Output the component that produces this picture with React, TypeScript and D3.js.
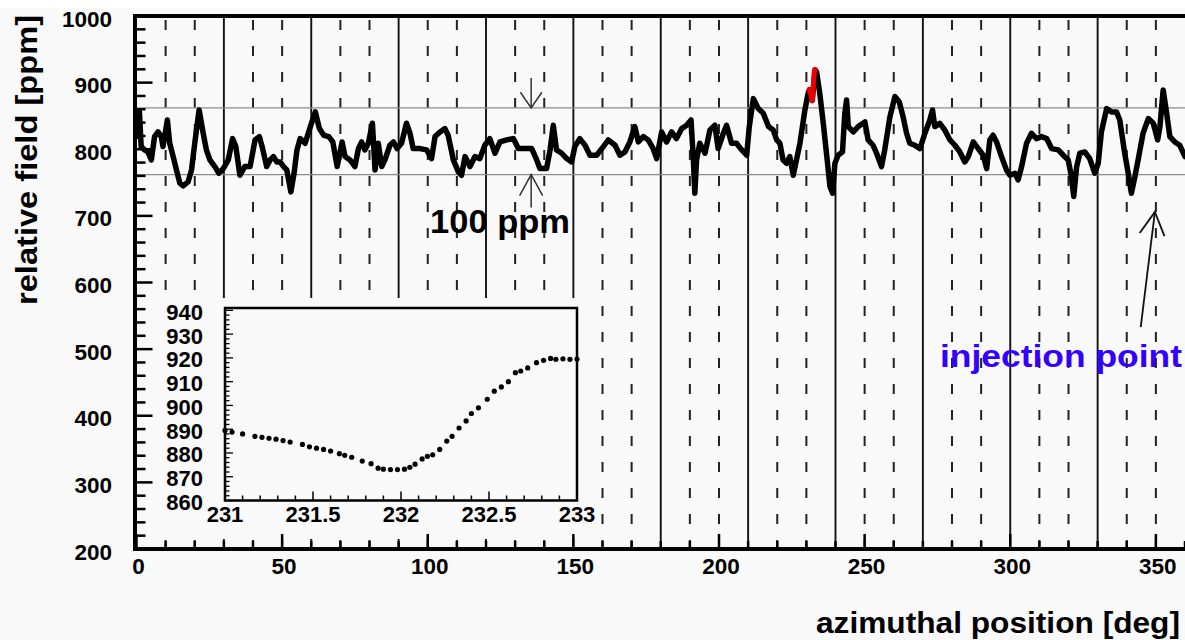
import React from "react";
import * as d3 from "d3";

// ---- data ----
const azimuth: number[] = [
  0, 1.0, 1.6, 2.8, 3.9, 5.1, 6.2, 7.4, 8.5, 9.1, 10.6, 11.4, 12.6, 13.7, 14.9, 16.0, 17.7, 18.9, 20.0, 21.5,
  22.9, 24.0, 25.2, 26.9, 28.3, 29.8, 31.5, 33.0, 34.1, 35.5, 37.2, 39.0, 40.7, 42.2, 43.3, 44.7, 45.9, 47.0,
  48.2, 49.3, 50.5, 51.6, 53.0, 54.1, 55.1, 56.2, 57.9, 59.7, 61.4, 62.8, 64.3, 66.0, 67.4, 68.9, 70.6,
  71.6, 73.3, 75.0, 76.2, 77.3, 78.4, 79.6, 81.0, 81.9, 83.0, 84.2, 85.3, 87.0, 88.2, 89.5, 91.0, 92.7,
  93.9, 95.0, 97.3, 99.6, 101.3, 102.5, 104.2, 105.9, 107.0, 108.8, 110.5, 111.6, 112.8, 114.5, 116.2,
  117.9, 119.6, 121.3, 123.1, 124.8, 127.1, 129.4, 131.1, 133.4, 135.7, 137.4, 138.5, 140.8, 142.0,
  143.1, 144.2, 146.0, 147.7, 149.4, 150.5, 152.2, 154.0, 155.7, 158.0, 160.3, 162.0, 164.3, 166.0,
  167.7, 169.4, 171.1, 172.3, 174.0, 175.7, 177.4, 178.6, 180.3, 182.0, 183.7, 185.4, 187.2, 188.9,
  190.4, 191.2, 191.7, 192.3, 193.4, 195.2, 196.9, 198.6, 199.7, 201.5, 202.6, 204.3, 206.0, 207.8,
  209.5, 210.4, 211.8, 213.5, 215.2, 217.0, 218.6, 219.8, 220.9, 222.0, 223.2, 224.3, 225.5, 226.6,
  227.8, 229.5, 230.6, 231.0, 232.0, 233.0, 233.5, 234.6, 235.8, 236.9, 238.1, 239.0, 239.8, 240.9,
  242.4, 243.2, 243.8, 244.4, 246.1, 247.8, 250.1, 251.2, 252.9, 254.1, 255.8, 256.9, 258.7, 260.4,
  261.9, 263.2, 264.4, 265.5, 267.2, 269.0, 270.7, 272.4, 273.3, 274.1, 275.8, 277.5, 279.3, 281.0,
  282.7, 284.4, 285.6, 287.3, 289.0, 290.7, 291.9, 293.0, 294.1, 295.3, 297.0, 298.7, 299.9, 301.6,
  302.7, 303.9, 305.6, 307.3, 309.0, 310.7, 312.5, 314.2, 316.5, 318.2, 319.9, 321.0, 321.8, 322.8,
  323.9, 325.6, 327.3, 329.0, 330.2, 331.3, 333.1, 334.8, 336.5, 337.6, 339.3, 340.5, 341.6, 342.8,
  343.9, 345.6, 347.4, 349.1, 350.6, 351.4, 352.5, 353.7, 354.8, 356.5, 358.2, 360.0,
];
const field: number[] = [
  819, 856, 804, 799, 796, 784, 819, 826, 819, 804, 844, 809, 789, 769, 749, 745, 751, 769, 809, 859,
  824, 799, 784, 774, 764, 771, 784, 816, 804, 761, 774, 774, 814, 819, 801, 774, 784, 789,
  781, 781, 774, 769, 736, 764, 799, 816, 809, 834, 856, 831, 821, 819, 811, 774, 811,
  789, 784, 774, 801, 811, 799, 809, 839, 769, 809, 774, 784, 806, 811, 801, 809, 839,
  824, 801, 801, 799, 786, 819, 826, 831, 821, 784, 766, 761, 789, 774, 789,
  786, 806, 816, 794, 811, 814, 816, 801, 801, 801, 784, 771, 771, 799,
  836, 799, 794, 786, 781, 804, 816, 806, 791, 791, 804, 814, 806, 791,
  796, 811, 834, 811, 819, 814, 801, 786, 826, 811, 826, 816, 831, 836,
  844, 784, 734, 784, 809, 794, 829, 836, 801, 824, 836, 809, 809, 799,
  791, 834, 876, 861, 854, 834, 829, 814, 809, 784, 779, 789, 761, 784,
  809, 859, 884, 889, 873, 919, 916, 884, 839, 794, 744, 734, 779, 791,
  796, 854, 874, 834, 826, 834, 841, 814, 806, 794, 774, 799, 849, 879,
  871, 849, 824, 809, 806, 801, 824, 844, 859, 834, 839, 829, 814, 806,
  796, 781, 789, 811, 801, 791, 771, 814, 821, 811, 789, 769, 761, 764,
  754, 774, 809, 824, 816, 819, 816, 801, 799, 791, 784, 759, 729, 774,
  794, 796, 786, 764, 779, 826, 861, 856, 856, 844, 794, 764, 734, 759,
  784, 824, 846, 839, 814, 834, 889, 854, 819, 811, 806, 789,
];

// zoomed detail (inset) 231 - 233 deg
const insetAzimuth: number[] = [
  231.0, 231.04, 231.1, 231.17, 231.21, 231.25, 231.29, 231.33, 231.37, 231.44, 231.48, 231.52, 231.56,
  231.6, 231.65, 231.68, 231.72, 231.78, 231.83, 231.87, 231.9, 231.94, 231.98, 232.02, 232.05, 232.08,
  232.12, 232.15, 232.18, 232.22, 232.26, 232.29, 232.33, 232.37, 232.4, 232.44, 232.49, 232.53, 232.57,
  232.61, 232.65, 232.68, 232.72, 232.77, 232.81, 232.85, 232.88, 232.92, 232.96, 233.0,
];
const insetField: number[] = [
  889.5, 888.8, 888.0, 887.0, 886.6, 886.2, 885.8, 885.2, 884.6, 883.6, 882.6, 882.0, 881.5,
  880.8, 879.7, 879.0, 878.2, 876.6, 875.5, 873.6, 873.2, 873.0, 873.0, 873.2, 874.0, 875.3,
  877.5, 878.6, 879.2, 881.5, 885.0, 887.0, 890.5, 893.5, 896.6, 899.0, 902.6, 906.0, 907.8,
  910.0, 913.8, 914.5, 915.8, 918.0, 919.0, 919.8, 919.4, 919.6, 919.4, 919.5,
];

const yTicks = [200, 300, 400, 500, 600, 700, 800, 900, 1000];
const xTicks = [0, 50, 100, 150, 200, 250, 300, 350];
const insetYTicks = [860, 870, 880, 890, 900, 910, 920, 930, 940];
const insetXTicks = [231, 231.5, 232, 232.5, 233];
const bandLow = 762;
const bandHigh = 862;
const injectionAz = 350;

const FONT = "'Liberation Sans', Arial, Helvetica, sans-serif";
const BG = "#f9f9f9";

export default function App() {
  const W = 1185, H = 640;
  const x = d3.scaleLinear().domain([0, 360]).range([136.5, 1185]);
  const y = d3.scaleLinear().domain([200, 1000]).range([549, 16]);
  const ix = d3.scaleLinear().domain([231, 233]).range([225, 577]);
  const iy = d3.scaleLinear().domain([860, 941]).range([500.5, 308]);

  const pts: [number, number][] = azimuth.map((a, i) => [a, field[i]]);
  const line = d3.line<[number, number]>().x((d) => x(d[0])).y((d) => y(d[1]));
  const redPts: [number, number][] = insetAzimuth.map((a, i) => [a, insetField[i]]);

  const grid = d3.range(10, 360, 10);
  const xMinor = d3.range(0, 361, 10);
  const yMinor = d3.range(200, 1001, 20);
  const iyMinor = d3.range(860, 941, 2);
  const ixMinor = d3.range(0, 21).map((i) => 231 + i * 0.1);

  const arrowX = x(135.5);
  const tipTop = y(bandHigh);
  const tipBot = y(bandLow);

  const injTip: [number, number] = [x(injectionAz) - 1, y(706)];
  const injTail: [number, number] = [x(344.8), y(533)];
  const ang = Math.atan2(injTail[1] - injTip[1], injTail[0] - injTip[0]);
  const head = (tip: [number, number], a: number, len: number, spread: number) => {
    const p1 = [tip[0] + len * Math.cos(a + spread), tip[1] + len * Math.sin(a + spread)];
    const p2 = [tip[0] + len * Math.cos(a - spread), tip[1] + len * Math.sin(a - spread)];
    return `M${p1[0]},${p1[1]}L${tip[0]},${tip[1]}L${p2[0]},${p2[1]}`;
  };

  return (
    <svg width={W} height={H} style={{ position: "absolute", left: 0, top: 0, background: BG }} fontFamily={FONT}>
      <rect x={0} y={0} width={W} height={8} fill="#ffffff" />
      {/* vertical grid */}
      {grid.map((g) =>
        g % 30 === 0 ? (
          <line key={g} x1={x(g)} x2={x(g)} y1={y(1000)} y2={y(200)} stroke="#111" strokeWidth={1.9} />
        ) : (
          <line key={g} x1={x(g)} x2={x(g)} y1={y(1000) + 4} y2={y(200)} stroke="#222" strokeWidth={2}
            strokeDasharray="10,16" />
        )
      )}
      {/* 100 ppm band */}
      {[bandLow, bandHigh].map((b) => (
        <line key={b} x1={x(0)} x2={W} y1={y(b)} y2={y(b)} stroke="#8c8c8c" strokeWidth={1.2} />
      ))}
      {/* trace */}
      <path d={line(pts) || ""} fill="none" stroke="#000" strokeWidth={5.5} strokeLinejoin="round" strokeLinecap="round" />
      <path d={line(redPts) || ""} fill="none" stroke="#ee0000" strokeWidth={5} strokeLinejoin="round" strokeLinecap="round" />

      {/* inset pad covering grid */}
      <rect x={139} y={298} width={452} height={241} fill={BG} />

      {/* main frame */}
      <line x1={x(0) - 1.5} x2={W} y1={y(1000)} y2={y(1000)} stroke="#000" strokeWidth={4} />
      <line x1={x(0) - 1.5} x2={W} y1={y(200)} y2={y(200)} stroke="#000" strokeWidth={4} />
      <line x1={x(0) - 1.5} x2={x(0) - 1.5} y1={y(1000) - 2} y2={y(200) + 2} stroke="#000" strokeWidth={4} />
      {/* y ticks */}
      {yMinor.map((v) => (
        <line key={v} x1={x(0)} x2={x(0) + (v % 100 === 0 ? 16 : 9)} y1={y(v)} y2={y(v)} stroke="#000" strokeWidth={2.5} />
      ))}
      {/* x ticks */}
      {xMinor.map((v) => (
        <line key={v} x1={x(v)} x2={x(v)} y1={y(200)} y2={y(200) - (v % 50 === 0 ? 15 : 8)} stroke="#000" strokeWidth={2.5} />
      ))}
      {yTicks.map((v) => (
        <text key={v} x={112} y={y(v) + 3} textAnchor="end" dominantBaseline="central" fontSize={22.5} fontWeight="bold" fill="#000">
          {v}
        </text>
      ))}
      {xTicks.map((v) => (
        <text key={v} x={x(v) + 2} y={574} textAnchor="middle" fontSize={22.5} fontWeight="bold" fill="#000">
          {v}
        </text>
      ))}
      {/* axis titles */}
      <text transform="translate(37,160) rotate(-90)" textAnchor="middle" fontSize={30} fontWeight="bold"
        textLength={290} lengthAdjust="spacingAndGlyphs" fill="#000">
        relative field [ppm]
      </text>
      <text x={816} y={633} fontSize={30} fontWeight="bold" fill="#000" textLength={364} lengthAdjust="spacingAndGlyphs">
        azimuthal position [deg]
      </text>

      {/* 100 ppm annotation */}
      <g stroke="#333" strokeWidth={1.5} fill="none">
        <line x1={arrowX} x2={arrowX} y1={tipTop - 30} y2={tipTop} />
        <path d={head([arrowX, tipTop], -Math.PI / 2, 19, 0.6)} />
        <line x1={arrowX} x2={arrowX} y1={tipBot + 33} y2={tipBot} />
        <path d={head([arrowX, tipBot], Math.PI / 2, 24, 0.5)} />
      </g>
      <text x={430} y={233} fontSize={34} fontWeight="bold" fill="#000" textLength={140} lengthAdjust="spacingAndGlyphs">
        100 ppm
      </text>

      {/* injection point */}
      <g stroke="#111" strokeWidth={1.8} fill="none">
        <line x1={injTail[0]} y1={injTail[1]} x2={injTip[0]} y2={injTip[1]} />
        <path d={head(injTip, ang, 26, 0.5)} />
      </g>
      <text x={940} y={367} fontSize={31} fontWeight="bold" fill="#3300ff" textLength={242} lengthAdjust="spacingAndGlyphs">
        injection point
      </text>

      {/* inset */}
      <rect x={ix(231)} y={iy(941)} width={ix(233) - ix(231)} height={iy(860) - iy(941)} fill={BG} stroke="#000" strokeWidth={2.5} />
      {iyMinor.map((v) => (
        <line key={v} x1={ix(231)} x2={ix(231) + (v % 10 === 0 ? 8 : 4.5)} y1={iy(v)} y2={iy(v)} stroke="#000" strokeWidth={1.3} />
      ))}
      {ixMinor.map((v, i) => (
        <line key={i} x1={ix(v)} x2={ix(v)} y1={iy(860)} y2={iy(860) - (i % 5 === 0 ? 9 : 5)} stroke="#000" strokeWidth={1.5} />
      ))}
      {insetYTicks.map((v) => (
        <text key={v} x={203} y={iy(v) + 2} textAnchor="end" dominantBaseline="central" fontSize={22} fontWeight="bold" fill="#000">
          {v}
        </text>
      ))}
      {insetXTicks.map((v) => (
        <text key={v} x={ix(v)} y={522} textAnchor="middle" fontSize={22} fontWeight="bold" fill="#000">
          {v}
        </text>
      ))}
      {insetAzimuth.map((a, i) => (
        <circle key={i} cx={ix(a)} cy={iy(insetField[i])} r={2.6} fill="#000" />
      ))}
    </svg>
  );
}
